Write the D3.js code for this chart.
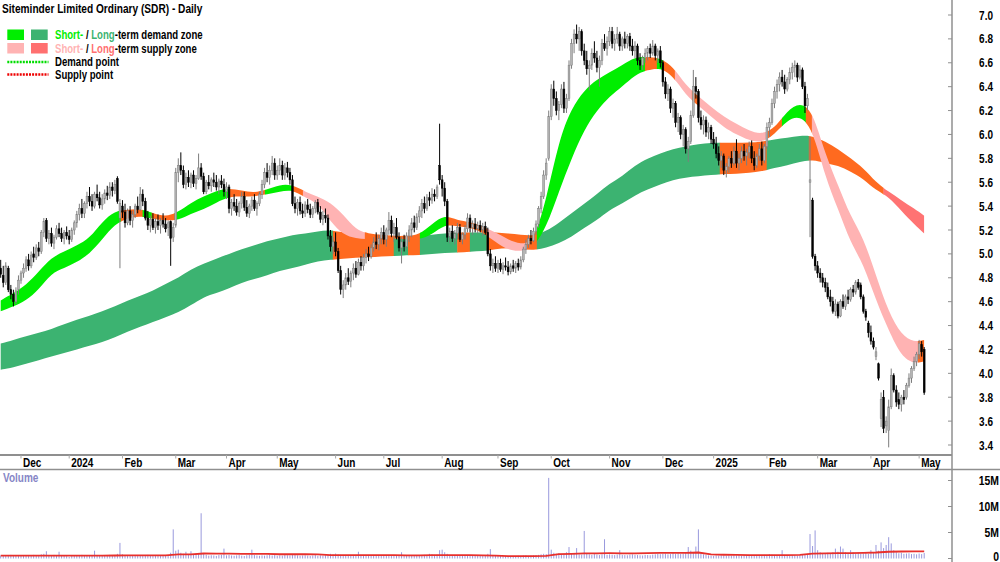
<!DOCTYPE html>
<html>
<head>
<meta charset="utf-8">
<title>Siteminder Limited Ordinary (SDR) - Daily</title>
<script src="https://cdn.jsdelivr.net/npm/d3@7/dist/d3.min.js"></script>
<style>
    html, body { margin: 0; padding: 0; background: #ffffff; }
    #chart { display: block; font-family: "Liberation Sans", Arial, Helvetica, sans-serif; font-weight: bold; }
</style>
</head>
<body>
<svg id="chart" width="1000" height="562"></svg>
<script>
// trading calendar (ASX), first and last bar
const firstDay = '2023-11-21';
const lastDay = '2025-05-05';
const holidays = ['2023-12-25', '2023-12-26', '2024-01-01', '2024-01-26', '2024-03-29', '2024-04-01',
    '2024-04-25', '2024-06-10', '2024-12-25', '2024-12-26', '2025-01-01', '2025-01-27',
    '2025-04-18', '2025-04-21', '2025-04-25'];

// daily bars by month: [open, high, low, close, volume (M)]
const nov23 = [
    [4.88,4.95,4.80,4.83,.55],[4.82,4.90,4.72,4.76,.48],[4.76,4.93,4.74,4.90,.62],[4.88,4.90,4.68,4.70,.50],
    [4.70,4.74,4.62,4.66,.70],[4.66,4.70,4.56,4.60,.65],[4.60,4.72,4.58,4.69,.58],[4.70,4.82,4.66,4.78,.52]];
const dec23 = [
    [4.78,4.86,4.75,4.84,.60],[4.84,4.92,4.80,4.88,.66],[4.88,4.98,4.85,4.95,.48],[4.95,5.00,4.86,4.90,.55],
    [4.90,5.02,4.88,4.99,.62],[5.00,5.06,4.93,4.97,.70],[4.97,5.08,4.95,5.05,.58],[5.05,5.10,4.98,5.02,.66],
    [5.02,5.20,5.00,5.18,.80],[5.18,5.30,5.14,5.27,.90],[5.28,5.30,5.10,5.13,1.40],[5.13,5.20,5.08,5.17,.62],
    [5.17,5.22,5.06,5.09,.55],[5.09,5.16,5.04,5.14,.70],[5.14,5.24,5.12,5.21,.52],[5.21,5.26,5.14,5.17,1.30],
    [5.17,5.22,5.10,5.13,.48],[5.13,5.20,5.08,5.18,.50],[5.18,5.23,5.12,5.15,.45]];
const jan24 = [
    [5.15,5.20,5.08,5.12,.30],[5.12,5.22,5.10,5.20,.50],[5.20,5.28,5.16,5.26,.58],[5.26,5.36,5.22,5.33,.62],
    [5.33,5.42,5.28,5.38,.55],[5.38,5.46,5.30,5.34,.70],[5.34,5.44,5.30,5.42,.66],[5.42,5.52,5.38,5.48,.58],
    [5.48,5.56,5.40,5.44,.52],[5.44,5.50,5.36,5.40,.60],[5.40,5.52,5.38,5.50,1.50],[5.50,5.58,5.44,5.47,.62],
    [5.47,5.52,5.38,5.41,.55],[5.41,5.50,5.37,5.46,.48],[5.46,5.54,5.42,5.51,.52],[5.51,5.57,5.45,5.49,.60],
    [5.49,5.60,5.46,5.56,.70],[5.56,5.60,5.48,5.53,.58],[5.53,5.62,5.50,5.58,.62],[5.63,5.65,5.42,5.44,.90],
    [5.30,5.46,4.88,5.42,3.00]];
const feb24 = [
    [5.40,5.45,5.30,5.35,.80],[5.35,5.42,5.22,5.26,.66],[5.26,5.38,5.24,5.36,.55],[5.36,5.40,5.24,5.28,.48],
    [5.28,5.36,5.22,5.33,.62],[5.33,5.42,5.30,5.40,.52],[5.40,5.48,5.34,5.37,.58],[5.37,5.56,5.36,5.50,.66],
    [5.50,5.54,5.40,5.44,.50],[5.44,5.47,5.28,5.30,.62],[5.30,5.36,5.20,5.24,.70],[5.24,5.32,5.18,5.29,.55],
    [5.29,5.34,5.20,5.22,.52],[5.22,5.30,5.17,5.27,.60],[5.27,5.33,5.20,5.24,.48],[5.24,5.30,5.17,5.28,.58],
    [5.28,5.34,5.22,5.25,.66],[5.25,5.30,5.18,5.21,.55],[5.22,5.28,5.15,5.26,.62],[5.27,5.28,4.90,5.13,1.10],
    [5.14,5.26,5.10,5.22,5.60]];
const mar24 = [
    [5.24,5.72,5.22,5.68,1.50],[5.68,5.80,5.60,5.74,1.70],[5.74,5.85,5.66,5.70,1.10],[5.70,5.74,5.55,5.58,.90],
    [5.58,5.68,5.54,5.64,1.30],[5.64,5.70,5.56,5.60,.80],[5.60,5.68,5.55,5.66,1.40],[5.66,5.70,5.56,5.59,.70],
    [5.59,5.66,5.54,5.63,.90],[5.63,5.84,5.62,5.72,1.00],[5.72,5.76,5.62,5.65,8.70],[5.65,5.68,5.50,5.52,.95],
    [5.52,5.62,5.50,5.60,.70],[5.60,5.66,5.54,5.57,.55],[5.57,5.64,5.52,5.62,.62],[5.62,5.68,5.56,5.60,.58],
    [5.60,5.66,5.53,5.56,.50],[5.56,5.63,5.50,5.61,.66],[5.61,5.66,5.55,5.58,.72],[5.58,5.63,5.48,5.52,1.90]];
const apr24 = [
    [5.52,5.60,5.46,5.56,.60],[5.56,5.58,5.34,5.38,.70],[5.38,5.46,5.32,5.43,.58],[5.43,5.50,5.36,5.40,.52],
    [5.40,5.46,5.32,5.35,.60],[5.35,5.44,5.31,5.42,.66],[5.42,5.52,5.38,5.48,.55],[5.48,5.52,5.36,5.39,.48],
    [5.39,5.45,5.31,5.34,.62],[5.34,5.42,5.30,5.40,.70],[5.40,5.48,5.36,5.45,1.70],[5.45,5.50,5.36,5.38,.66],
    [5.38,5.44,5.32,5.42,.58],[5.42,5.52,5.40,5.50,.52],[5.50,5.62,5.46,5.58,.60],[5.58,5.72,5.55,5.68,.55],
    [5.68,5.76,5.60,5.64,.62],[5.64,5.74,5.58,5.70,.70],[5.70,5.82,5.66,5.76,.58],[5.76,5.80,5.62,5.66,.66]];
const may24 = [
    [5.66,5.74,5.62,5.70,.52],[5.70,5.80,5.66,5.74,.60],[5.74,5.78,5.62,5.66,.55],[5.66,5.76,5.62,5.72,.70],
    [5.72,5.77,5.64,5.68,.62],[5.68,5.72,5.58,5.62,.58],[5.62,5.66,5.40,5.42,.66],[5.42,5.48,5.34,5.38,.80],
    [5.38,5.46,5.32,5.43,.60],[5.43,5.48,5.33,5.36,.52],[5.36,5.42,5.30,5.34,.58],[5.34,5.44,5.31,5.41,.62],
    [5.41,5.46,5.34,5.37,.55],[5.37,5.42,5.30,5.33,.48],[5.33,5.40,5.30,5.38,.58],[5.38,5.45,5.34,5.43,.66],
    [5.43,5.46,5.33,5.35,.52],[5.35,5.40,5.26,5.29,.60],[5.29,5.36,5.24,5.32,.55],[5.32,5.38,5.26,5.30,.62],
    [5.30,5.33,5.12,5.15,.70],[5.15,5.20,5.02,5.06,.90],[5.06,5.14,5.00,5.10,.80]];
const jun24 = [
    [5.10,5.18,4.98,5.02,.95],[5.02,5.05,4.84,4.86,.75],[4.86,4.90,4.66,4.70,.70],[4.70,4.78,4.63,4.74,.60],
    [4.74,4.84,4.70,4.80,.58],[4.80,4.88,4.74,4.77,.55],[4.77,4.86,4.72,4.84,.66],[4.84,4.92,4.78,4.88,.62],
    [4.88,4.94,4.80,4.83,.58],[4.83,4.96,4.82,4.93,1.30],[4.93,4.98,4.86,4.90,.70],[4.90,5.00,4.86,4.97,.62],
    [4.97,5.04,4.92,5.00,.55],[5.00,5.06,4.94,4.98,.60],[4.98,5.08,4.96,5.05,.58],[5.05,5.14,5.02,5.10,.52],
    [5.10,5.18,5.04,5.08,.66],[5.08,5.16,5.03,5.13,.62],[5.13,5.22,5.08,5.18,.55]];
const jul24 = [
    [5.18,5.24,5.08,5.12,.60],[5.12,5.22,5.06,5.20,.52],[5.20,5.35,5.16,5.28,.58],[5.28,5.32,5.14,5.17,.62],
    [5.17,5.26,5.10,5.22,.55],[5.22,5.30,5.12,5.14,.60],[5.14,5.18,5.02,5.05,.66],[5.05,5.14,4.92,5.10,1.20],
    [5.10,5.16,5.02,5.06,.58],[5.06,5.18,5.04,5.15,.52],[5.15,5.24,5.10,5.20,.60],[5.20,5.30,5.14,5.26,.55],
    [5.26,5.32,5.18,5.22,.62],[5.22,5.34,5.20,5.31,.58],[5.31,5.40,5.26,5.36,.66],[5.36,5.46,5.30,5.42,.60],
    [5.42,5.48,5.34,5.38,.70],[5.38,5.50,5.36,5.47,.62],[5.47,5.52,5.40,5.45,.90],[5.45,5.55,5.42,5.50,.80],
    [5.50,5.54,5.44,5.48,.70],[5.48,5.58,5.46,5.56,.75],[5.74,6.09,5.58,5.62,1.60]];
const aug24 = [
    [5.62,5.66,5.48,5.55,1.70],[5.55,5.60,5.40,5.44,1.20],[5.44,5.46,5.10,5.14,.90],[5.14,5.22,5.09,5.19,.70],
    [5.19,5.24,5.10,5.13,.62],[5.13,5.20,5.08,5.17,.58],[5.17,5.26,5.12,5.22,.60],[5.22,5.25,5.10,5.12,.55],
    [5.12,5.18,5.08,5.16,.62],[5.16,5.24,5.12,5.21,.58],[5.21,5.34,5.18,5.30,.66],[5.30,5.33,5.18,5.22,.60],
    [5.22,5.28,5.16,5.25,.55],[5.25,5.30,5.18,5.21,.52],[5.21,5.27,5.17,5.24,.58],[5.24,5.28,5.18,5.20,.62],
    [5.20,5.26,5.15,5.23,.55],[5.23,5.27,5.16,5.18,.60],[5.18,5.22,4.98,5.00,.90],[5.00,5.04,4.86,4.90,1.80],
    [4.90,4.96,4.84,4.92,.62],[4.92,4.98,4.85,4.88,.55]];
const sep24 = [
    [4.88,4.95,4.84,4.92,.48],[4.92,4.96,4.85,4.87,.52],[4.87,4.93,4.83,4.90,.45],[4.90,4.97,4.86,4.89,.50],
    [4.89,4.94,4.82,4.85,.42],[4.85,4.92,4.83,4.90,.48],[4.90,4.95,4.85,4.88,.45],[4.88,4.94,4.84,4.92,.40],
    [4.92,4.96,4.86,4.89,.52],[4.89,4.98,4.87,4.95,.46],[4.95,5.06,4.93,5.04,.58],[5.04,5.12,5.00,5.08,.62],
    [5.08,5.16,5.05,5.13,.50],[5.13,5.20,5.08,5.11,.55],[5.11,5.22,5.10,5.19,.60],[5.19,5.28,5.16,5.25,.66],
    [5.25,5.40,5.22,5.38,.70],[5.38,5.52,5.34,5.48,.80],[5.48,5.70,5.46,5.66,.90],[5.66,5.80,5.62,5.76,.85],
    [5.80,6.20,5.78,6.15,15.50]];
const oct24 = [
    [6.15,6.42,6.12,6.38,1.70],[6.38,6.45,6.24,6.30,1.10],[6.30,6.36,6.16,6.20,.90],[6.20,6.28,6.12,6.25,1.00],
    [6.25,6.42,6.22,6.38,.85],[6.38,6.44,6.18,6.22,.90],[6.22,6.34,6.18,6.30,1.20],[6.30,6.62,6.28,6.58,2.20],
    [6.58,6.80,6.55,6.76,.90],[6.76,6.88,6.68,6.84,1.00],[6.84,6.92,6.76,6.80,2.00],[6.80,6.90,6.70,6.86,.80],
    [6.86,6.88,6.66,6.70,.75],[6.70,6.76,6.58,6.62,5.30],[6.62,6.70,6.50,6.55,.90],[6.55,6.62,6.37,6.58,.80],
    [6.58,6.72,6.54,6.68,.70],[6.68,6.78,6.60,6.64,.85],[6.64,6.70,6.52,6.56,.75],[6.56,6.66,6.40,6.62,.66],
    [6.62,6.80,6.58,6.76,.80],[6.76,6.84,6.70,6.72,3.70],[6.72,6.82,6.66,6.78,.70]];
const nov24 = [
    [6.78,6.90,6.74,6.86,.80],[6.86,6.90,6.72,6.76,.72],[6.76,6.84,6.70,6.80,.66],[6.80,6.90,6.76,6.84,.75],
    [6.84,6.86,6.70,6.74,1.60],[6.74,6.82,6.70,6.80,.70],[6.80,6.86,6.72,6.76,.66],[6.76,6.84,6.72,6.82,.62],
    [6.82,6.85,6.70,6.74,.75],[6.74,6.80,6.66,6.70,.80],[6.70,6.78,6.64,6.74,.70],[6.74,6.76,6.58,6.62,.66],
    [6.62,6.68,6.54,6.58,.62],[6.58,6.66,6.54,6.64,.58],[6.64,6.72,6.60,6.68,.70],[6.68,6.74,6.62,6.72,.66],
    [6.72,6.76,6.64,6.68,.62],[6.68,6.79,6.66,6.74,.75],[6.74,6.76,6.62,6.66,.80],[6.66,6.72,6.60,6.70,.90],
    [6.70,6.74,6.56,6.60,.82]];
const dec24 = [
    [6.60,6.62,6.40,6.44,.90],[6.44,6.48,6.30,6.34,.95],[6.34,6.42,6.28,6.38,.80],[6.38,6.40,6.18,6.22,.85],
    [6.22,6.30,6.14,6.26,1.10],[6.26,6.28,6.06,6.10,.90],[6.10,6.18,6.02,6.14,1.00],[6.14,6.16,5.96,6.00,.85],
    [6.00,6.08,5.90,6.04,.95],[6.04,6.06,5.84,5.88,1.20],[5.88,5.98,5.77,5.94,2.20],[5.94,6.20,5.92,6.16,1.50],
    [6.16,6.54,6.14,6.40,1.10],[6.40,6.48,6.30,6.36,2.30],[6.36,6.38,6.10,6.14,5.60],[6.14,6.20,6.04,6.08,1.20],
    [6.08,6.16,6.00,6.12,.80],[6.12,6.15,5.98,6.02,.70],[6.02,6.10,5.96,6.06,.60],[6.06,6.08,5.92,5.96,.55]];
const jan25 = [
    [5.96,6.02,5.88,5.92,.50],[5.92,5.98,5.80,5.84,.60],[5.84,5.90,5.74,5.78,.55],[5.78,5.86,5.72,5.82,.62],
    [5.82,5.84,5.66,5.70,.58],[5.70,5.76,5.64,5.73,.52],[5.73,5.82,5.68,5.80,.60],[5.80,5.86,5.72,5.76,.55],
    [5.76,5.90,5.74,5.86,.62],[5.86,5.96,5.72,5.76,.58],[5.76,5.84,5.70,5.80,.66],[5.80,5.90,5.76,5.86,.52],
    [5.86,5.92,5.78,5.82,.60],[5.82,5.88,5.74,5.85,.55],[5.85,5.94,5.80,5.90,.62],[5.90,5.95,5.76,5.80,.58],
    [5.80,5.86,5.70,5.74,.66],[5.74,5.84,5.72,5.82,.55],[5.82,5.92,5.78,5.88,.60],[5.88,5.94,5.74,5.78,.62],
    [5.78,5.92,5.76,5.90,.70]];
const feb25 = [
    [5.90,6.10,5.88,6.06,.66],[6.06,6.14,5.98,6.10,.80],[6.10,6.30,6.08,6.26,.75],[6.26,6.40,6.22,6.36,.70],
    [6.36,6.46,6.30,6.42,.66],[6.42,6.52,6.36,6.48,.62],[6.48,6.54,6.40,6.44,1.60],[6.44,6.50,6.34,6.38,.70],
    [6.38,6.48,6.36,6.46,.62],[6.46,6.56,6.42,6.52,.58],[6.52,6.60,6.46,6.56,.66],[6.56,6.62,6.48,6.58,.60],
    [6.58,6.60,6.44,6.48,.55],[6.48,6.58,6.46,6.54,.62],[6.54,6.56,6.38,6.40,.70],[6.40,6.44,6.18,6.24,.80],
    [6.24,6.34,6.20,6.30,.90],[5.60,5.98,5.14,5.62,4.70],[5.45,5.47,4.96,4.98,2.40],[4.98,5.00,4.86,4.90,5.40]];
const mar25 = [
    [4.90,4.94,4.80,4.84,1.60],[4.84,4.88,4.76,4.80,1.20],[4.80,4.84,4.72,4.76,1.00],[4.76,4.80,4.68,4.72,.90],
    [4.72,4.76,4.62,4.64,1.10],[4.64,4.70,4.56,4.60,.95],[4.60,4.64,4.50,4.52,1.20],[4.52,4.62,4.48,4.58,1.90],
    [4.58,4.60,4.46,4.48,1.30],[4.48,4.62,4.47,4.60,2.30],[4.60,4.66,4.54,4.56,1.90],[4.56,4.66,4.53,4.64,1.20],
    [4.64,4.70,4.58,4.62,1.00],[4.62,4.72,4.60,4.70,1.60],[4.70,4.74,4.64,4.68,1.20],[4.68,4.78,4.66,4.76,.90],
    [4.76,4.79,4.70,4.72,1.10],[4.74,4.76,4.62,4.64,.95],[4.64,4.66,4.50,4.52,1.00],[4.52,4.54,4.44,4.47,1.10],
    [4.42,4.44,4.30,4.34,.90]];
const apr25 = [
    [4.34,4.40,4.24,4.27,1.60],[4.27,4.30,4.20,4.22,1.20],[4.14,4.22,4.11,4.18,2.60],[4.08,4.09,3.94,3.96,1.50],
    [3.62,3.84,3.55,3.78,3.10],[3.80,3.86,3.50,3.54,2.00],[3.56,3.64,3.50,3.60,2.60],[3.52,3.78,3.38,3.72,4.10],
    [3.72,4.04,3.70,3.98,2.90],[3.98,4.00,3.84,3.86,1.60],[3.86,3.90,3.72,3.76,1.20],[3.78,3.84,3.70,3.74,1.00],
    [3.74,3.82,3.68,3.80,1.10],[3.80,3.86,3.74,3.78,.90],[3.80,3.92,3.78,3.90,.95],[3.90,4.00,3.88,3.96,1.00],
    [3.96,4.06,3.92,4.04,.85],[4.04,4.14,4.02,4.10,.90],[4.10,4.18,4.06,4.16,.80]];
const may25 = [
    [4.16,4.28,4.12,4.25,.95],[4.24,4.27,4.14,4.18,.85],[4.20,4.22,3.82,3.84,1.05]];

// zones, read every 5th bar (plus the last one)
const zoneStep = 5;
const shortTop = [4.61,4.67,4.74,4.85,4.97,5.02,5.07,5.13,5.27,5.36,
    5.37,5.38,5.34,5.31,5.35,5.43,5.48,5.53,5.55,5.53,
    5.51,5.54,5.58,5.58,5.52,5.48,5.43,5.33,5.20,5.17,
    5.16,5.15,5.15,5.16,5.25,5.33,5.28,5.27,5.23,5.18,
    5.12,5.08,5.10,5.45,5.95,6.22,6.37,6.46,6.52,6.58,
    6.65,6.65,6.64,6.57,6.41,6.32,6.23,6.15,6.09,6.03,
    6.00,6.05,6.20,6.27,6.20,5.83,5.58,5.31,5.14,4.82,
    4.51,4.32,4.26,4.28];
const shortBottom = [4.52,4.56,4.61,4.70,4.84,4.88,4.93,5.00,5.12,5.25,
    5.30,5.32,5.29,5.28,5.28,5.34,5.37,5.43,5.48,5.48,
    5.48,5.50,5.52,5.54,5.47,5.43,5.27,5.16,5.13,5.12,
    5.13,5.13,5.12,5.12,5.16,5.25,5.23,5.22,5.18,5.10,
    5.03,5.02,5.05,5.22,5.52,5.80,6.04,6.20,6.32,6.40,
    6.50,6.54,6.56,6.49,6.33,6.24,6.15,6.06,6.00,5.95,
    5.93,6.00,6.12,6.16,6.05,5.64,5.38,5.09,4.92,4.61,
    4.36,4.14,4.08,4.10];
const longTop = [4.25,4.28,4.31,4.34,4.37,4.41,4.45,4.48,4.52,4.56,
    4.61,4.65,4.69,4.75,4.80,4.87,4.92,4.96,5.00,5.04,
    5.07,5.11,5.13,5.16,5.17,5.19,5.20,5.18,5.17,5.15,
    5.14,5.14,5.14,5.15,5.16,5.17,5.18,5.18,5.18,5.18,
    5.17,5.16,5.15,5.19,5.26,5.34,5.42,5.50,5.59,5.65,
    5.74,5.80,5.84,5.88,5.90,5.92,5.93,5.93,5.93,5.93,
    5.94,5.96,5.97,5.99,5.99,5.94,5.88,5.80,5.72,5.60,
    5.52,5.45,5.38,5.32];
const longBottom = [4.03,4.05,4.08,4.11,4.14,4.17,4.20,4.23,4.26,4.30,
    4.35,4.39,4.43,4.47,4.51,4.57,4.64,4.67,4.71,4.76,
    4.79,4.82,4.86,4.88,4.91,4.94,4.95,4.96,4.97,4.97,
    4.98,4.98,4.99,4.99,5.00,5.01,5.01,5.02,5.02,5.04,
    5.05,5.04,5.03,5.05,5.09,5.14,5.22,5.28,5.37,5.42,
    5.49,5.54,5.58,5.62,5.64,5.65,5.66,5.67,5.67,5.68,
    5.69,5.72,5.74,5.77,5.79,5.76,5.74,5.69,5.63,5.53,
    5.48,5.36,5.25,5.17];
// average volume (M), same sampling
const volumeAvg = [.55,.55,.56,.56,.57,.57,.56,.57,.57,.58,
    .60,.60,.60,.60,.78,.80,.96,.92,.92,.90,
    .90,.90,.82,.82,.82,.80,.66,.66,.65,.64,
    .64,.63,.62,.62,.63,.65,.64,.63,.62,.55,
    .47,.46,.47,.50,.85,.90,.98,1.00,1.02,1.00,
    .98,1.05,1.08,1.08,1.10,1.15,.78,.72,.68,.66,
    .65,.65,.66,.68,.95,1.00,1.02,1.05,1.08,1.15,
    1.30,1.35,1.38,1.38];

// zone state by bar range: d = demand, s = supply, n = neither
const shortStates = [[0,47.4,'d'],[47.4,56,'n'],[56,59.6,'d'],[59.6,68.7,'n'],[68.7,90.4,'d'],
    [90.4,104.2,'n'],[104.2,115.2,'d'],[115.2,119.2,'n'],[119.2,143.6,'s'],[143.6,165.3,'n'],
    [165.3,175.9,'d'],[175.9,191.7,'n'],[191.7,207.5,'s'],[207.5,211.4,'n'],[211.4,254,'d'],
    [254,258.7,'n'],[258.7,261.1,'d'],[261.1,265.8,'n'],[265.8,272.5,'s'],[272.5,274.9,'n'],
    [274.9,302,'s'],[302,308,'n'],[308,317.4,'d'],[317.4,319.8,'n'],[319.8,361.6,'s'],[361.6,364,'n']];
const longStates = [[0,131,'d'],[131,155,'n'],[155,160.6,'d'],[160.6,165.3,'n'],[165.3,180,'d'],
    [180,185,'n'],[185,191.7,'d'],[191.7,211.4,'n'],[211.4,283.5,'d'],[283.5,302,'n'],
    [302,318.6,'d'],[318.6,348,'n'],[348,364,'s']];

const priceTicks = [3.4, 3.6, 3.8, 4.0, 4.2, 4.4, 4.6, 4.8, 5.0, 5.2, 5.4, 5.6, 5.8, 6.0, 6.2, 6.4, 6.6, 6.8, 7.0];
const volumeTicks = [0, 5, 10, 15];
const volumeTickLabels = ['0', '5M', '10M', '15M'];

(function () {
    'use strict';

    let shortColor = { d: '#00ee00', s: '#ffb3b3', n: '#ff6a1f' };
    let longColor = { d: '#3cb371', s: '#ff7373', n: '#ff6a1f' };

    function tradingDays() {
        let fmt = d3.utcFormat('%Y-%m-%d');
        let start = new Date(firstDay + 'T00:00:00Z');
        let end = d3.utcDay.offset(new Date(lastDay + 'T00:00:00Z'), 1);
        return d3.utcDay.range(start, end).filter(function (d) {
            let wd = d.getUTCDay();
            return wd !== 0 && wd !== 6 && holidays.indexOf(fmt(d)) < 0;
        });
    }

    // text is drawn narrow, like the original export
    function addText(parent, str, px, py, size, sx, anchor) {
        return parent.append('text')
            .attr('transform', 'translate(' + px + ',' + py + ') scale(' + sx + ',1)')
            .attr('font-size', size)
            .attr('text-anchor', anchor || 'start')
            .text(str);
    }

    let days = tradingDays();
    let rows = [].concat(nov23, dec23, jan24, feb24, mar24, apr24, may24, jun24, jul24, aug24,
        sep24, oct24, nov24, dec24, jan25, feb25, mar25, apr25, may25);
    if (rows.length !== days.length) {
        console.log('bar count mismatch', rows.length, days.length);
    }
    let data = rows.map(function (r, i) {
        return { i: i, date: days[i], open: r[0], high: r[1], low: r[2], close: r[3], volume: r[4] };
    });

    let svg = d3.select('#chart');

    let x = d3.scaleLinear().domain([0, data.length - 1]).range([0.7, 924.2]);
    let y = d3.scaleLinear().domain([3.4, 7.0]).range([445, 15]);
    let yVol = d3.scaleLinear().domain([0, 15]).range([558.5, 480.5]);

    // ---- zones
    let defs = svg.append('defs');
    let zoneIdx = shortTop.map(function (d, k) {
        return Math.min(k * zoneStep, data.length - 1);
    });

    function drawZone(name, tops, bottoms, states, colors) {
        let pts = zoneIdx.map(function (i, k) {
            return { i: i, top: tops[k], bottom: bottoms[k] };
        });
        let area = d3.area()
            .x(function (d) { return x(d.i); })
            .y0(function (d) { return y(d.bottom); })
            .y1(function (d) { return y(d.top); })
            .curve(d3.curveBasis);
        let path = area(pts);
        let g = svg.append('g').attr('class', name);
        states.forEach(function (s, k) {
            let id = name + '-clip-' + k;
            let x0 = k === 0 ? 0 : x(s[0]);
            defs.append('clipPath').attr('id', id)
                .append('rect')
                .attr('x', x0 - 0.2)
                .attr('y', 0)
                .attr('width', x(s[1]) - x0 + 0.4)
                .attr('height', 455);
            g.append('path')
                .attr('d', path)
                .attr('clip-path', 'url(#' + id + ')')
                .style('fill', colors[s[2]]);
        });
    }

    drawZone('long-zone', longTop, longBottom, longStates, longColor);
    drawZone('short-zone', shortTop, shortBottom, shortStates, shortColor);

    // ---- candles
    let bars = svg.append('g').attr('class', 'candles')
        .selectAll('g')
        .data(data)
        .enter()
        .append('g');

    bars.append('line')
        .attr('x1', function (d) { return x(d.i); })
        .attr('x2', function (d) { return x(d.i); })
        .attr('y1', function (d) { return y(d.high); })
        .attr('y2', function (d) { return y(d.low); })
        .style('stroke', function (d) { return d.close >= d.open ? '#7d7d7d' : '#000000'; })
        .style('stroke-width', 1);

    bars.append('rect')
        .attr('x', function (d) { return x(d.i) - 0.9; })
        .attr('y', function (d) { return y(Math.max(d.open, d.close)); })
        .attr('width', 1.8)
        .attr('height', function (d) { return Math.max(0.8, Math.abs(y(d.open) - y(d.close))); })
        .style('fill', function (d) { return d.close >= d.open ? '#b4b4b4' : '#000000'; })
        .style('stroke', function (d) { return d.close >= d.open ? '#7d7d7d' : '#000000'; })
        .style('stroke-width', 0.5);

    // ---- volume
    svg.append('g').attr('class', 'volume')
        .selectAll('line')
        .data(data)
        .enter()
        .append('line')
        .attr('x1', function (d) { return x(d.i); })
        .attr('x2', function (d) { return x(d.i); })
        .attr('y1', yVol(0))
        .attr('y2', function (d) { return yVol(d.volume); })
        .style('stroke', '#9999dd')
        .style('stroke-width', 1);

    let avgLine = d3.line()
        .x(function (d) { return x(d.i); })
        .y(function (d) { return yVol(d.v); });
    svg.append('path')
        .attr('d', avgLine(zoneIdx.map(function (i, k) { return { i: i, v: volumeAvg[k] }; })))
        .style('fill', 'none')
        .style('stroke', '#e8302c')
        .style('stroke-width', 1.8);

    addText(svg, 'Volume', 3, 482, 12.5, 0.8).style('fill', '#8686c6');

    // ---- axes
    let axisColor = '#8f8f8f';
    svg.append('line').attr('x1', 0).attr('x2', 952).attr('y1', 455).attr('y2', 455)
        .style('stroke', axisColor).style('stroke-width', 2);
    svg.append('line').attr('x1', 0).attr('x2', 1000).attr('y1', 469.5).attr('y2', 469.5)
        .style('stroke', axisColor).style('stroke-width', 1.5);
    svg.append('line').attr('x1', 952).attr('x2', 952).attr('y1', 0).attr('y2', 562)
        .style('stroke', axisColor).style('stroke-width', 1.5);

    let priceAxis = svg.append('g').attr('class', 'price-axis');
    priceTicks.forEach(function (p) {
        priceAxis.append('line')
            .attr('x1', 948).attr('x2', 952)
            .attr('y1', y(p)).attr('y2', y(p))
            .style('stroke', axisColor);
        addText(priceAxis, d3.format('.1f')(p), 993, y(p) + 4.5, 12.5, 0.8, 'end');
    });

    let volAxis = svg.append('g').attr('class', 'volume-axis');
    volumeTicks.forEach(function (v, k) {
        volAxis.append('line')
            .attr('x1', 948).attr('x2', 952)
            .attr('y1', yVol(v)).attr('y2', yVol(v))
            .style('stroke', axisColor);
        // the zero label sits on the bottom edge, keep it inside
        let ly = Math.min(yVol(v) + 4.5, 561);
        addText(volAxis, volumeTickLabels[k], 999, ly, 13, 0.8, 'end');
    });

    let dateAxis = svg.append('g').attr('class', 'date-axis');
    let monthFmt = d3.utcFormat('%b');
    data.forEach(function (d, i) {
        if (i === 0 || d.date.getUTCMonth() === data[i - 1].date.getUTCMonth()) {
            return;
        }
        let label = d.date.getUTCMonth() === 0 ? String(d.date.getUTCFullYear()) : monthFmt(d.date);
        dateAxis.append('line')
            .attr('x1', x(i)).attr('x2', x(i))
            .attr('y1', 455).attr('y2', 458.5)
            .style('stroke', '#a8a8a8');
        addText(dateAxis, label, x(i) + 2, 467, 12.5, 0.8);
    });

    // ---- title and legend
    addText(svg, 'Siteminder Limited Ordinary (SDR) - Daily', 2, 13, 13, 0.78);

    let legend = svg.append('g').attr('class', 'legend');
    let swatches = [
        [29.5, shortColor.d, longColor.d],
        [43, '#ffb3b3', '#ff7070']
    ];
    swatches.forEach(function (s) {
        legend.append('rect').attr('x', 7.3).attr('y', s[0]).attr('width', 16.7).attr('height', 10.5)
            .style('fill', s[1]);
        legend.append('rect').attr('x', 31).attr('y', s[0]).attr('width', 16.7).attr('height', 10.5)
            .style('fill', s[2]);
    });

    let row1 = addText(legend, '', 55, 39, 12, 0.8);
    row1.append('tspan').style('fill', '#00ee00').text('Short-');
    row1.append('tspan').text(' / ');
    row1.append('tspan').style('fill', longColor.d).text('Long');
    row1.append('tspan').text('-term demand zone');

    let row2 = addText(legend, '', 55, 52.5, 12, 0.8);
    row2.append('tspan').style('fill', '#ffb3b3').text('Short-');
    row2.append('tspan').text(' / ');
    row2.append('tspan').style('fill', '#ff7070').text('Long');
    row2.append('tspan').text('-term supply zone');

    [[62, '#00dd00', 'Demand point'], [74.5, '#ee0000', 'Supply point']].forEach(function (r) {
        legend.append('line')
            .attr('x1', 7.3).attr('x2', 48.5)
            .attr('y1', r[0]).attr('y2', r[0])
            .style('stroke', r[1])
            .style('stroke-width', 2.4)
            .style('stroke-dasharray', '2,1.1');
        addText(legend, r[2], 55, r[0] + 4.2, 12, 0.8);
    });
})();
</script>
</body>
</html>
